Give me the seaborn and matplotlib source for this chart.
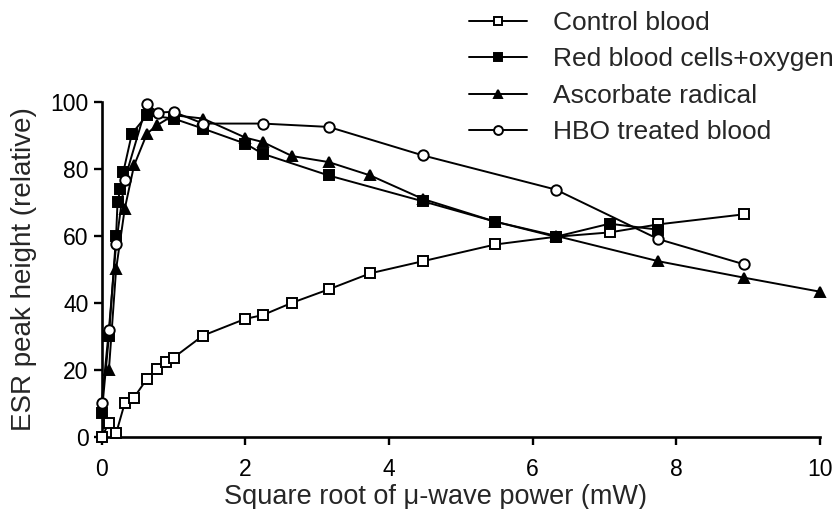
import numpy as np
import pandas as pd
import matplotlib
matplotlib.use("Agg")
import matplotlib.pyplot as plt
import seaborn as sns

# ---- data ----
control_x = [0, 0.1, 0.2, 0.32, 0.45, 0.63, 0.77, 0.89, 1.0, 1.41, 2.0, 2.24, 2.65,
             3.16, 3.74, 4.47, 5.48, 6.32, 7.07, 7.75, 8.94]
control_y = [0, 4, 1, 10, 11.7, 17.3, 20.3, 22.3, 23.6, 30.2, 35.2, 36.3, 40,
             44, 48.8, 52.4, 57.4, 59.7, 61, 63.4, 66.4]

rbc_x = [0, 0.1, 0.2, 0.22, 0.26, 0.3, 0.42, 0.63, 1.0, 1.41, 2.0, 2.24, 3.16,
         4.47, 5.48, 6.32, 7.07, 7.75]
rbc_y = [7, 30, 60, 70, 74, 79, 90.5, 96, 95, 92, 87.5, 84.5, 78,
         70.3, 64.2, 59.7, 63.6, 61.8]

asc_x = [0.1, 0.2, 0.32, 0.45, 0.63, 0.77, 1.0, 1.41, 2.0, 2.24, 2.65, 3.16,
         3.74, 4.47, 5.48, 6.32, 7.75, 8.94, 10.0]
asc_y = [20, 50, 68, 81, 90.5, 93, 96, 95, 89.3, 88, 83.8, 82,
         78, 71, 64.2, 60, 52.4, 47.5, 43.3]

hbo_x = [0, 0.1, 0.2, 0.32, 0.63, 0.78, 1.0, 1.41, 2.24, 3.16, 4.47, 6.32, 7.75, 8.94]
hbo_y = [10, 32, 57.5, 76.8, 99.3, 96.8, 97, 93.5, 93.5, 92.5, 84, 73.8, 59, 51.5]

series_names = ["Control blood", "Red blood cells+oxygen",
                "Ascorbate radical", "HBO treated blood"]
x_ticks = [0, 2, 4, 6, 8, 10]
y_ticks = [0, 20, 40, 60, 80, 100]

sns.set_style("ticks")
plt.rcParams["font.family"] = ["Liberation Sans", "DejaVu Sans"]

fig = plt.figure(figsize=(8.38, 5.09), dpi=100)
ax = fig.add_axes([0.1214, 0.142, 0.8571, 0.658])

styles = [
    (control_x, control_y, "s", "white", 7.0),
    (rbc_x, rbc_y, "s", "black", 7.0),
    (asc_x, asc_y, "^", "black", 7.5),
    (hbo_x, hbo_y, "o", "white", 7.5),
]
for name, (xs, ys, mk, fc, ms) in zip(series_names, styles):
    df = pd.DataFrame({"x": xs, "y": ys})
    sns.lineplot(data=df, x="x", y="y", ax=ax, estimator=None, sort=False,
                 color="black", lw=1.4, marker=mk, markersize=ms,
                 markerfacecolor=fc, markeredgecolor="black", markeredgewidth=1.4,
                 label=name, clip_on=False, zorder=3)

ax.set_xlim(0, 10)
ax.set_ylim(0, 100)
ax.set_xticks(x_ticks)
ax.set_yticks(y_ticks)
for s in ["top", "right"]:
    ax.spines[s].set_visible(False)
for s in ["left", "bottom"]:
    ax.spines[s].set_linewidth(1.9)
    ax.spines[s].set_color("black")
ax.tick_params(axis="both", direction="out", length=5.5, width=1.7,
               labelsize=16.5, colors="black")
ax.tick_params(axis="x", pad=10)
ax.tick_params(axis="y", pad=4)
ax.set_xlabel("Square root of \u03bc-wave power (mW)", fontsize=19.5)
ax.set_ylabel("ESR peak height (relative)", fontsize=20)
ax.xaxis.set_label_coords(0.465, -0.142)
ax.yaxis.set_label_coords(-0.09, 0.5)

leg = ax.legend(loc="upper left", bbox_to_anchor=(469 / 838, 1 - 11 / 509),
                bbox_transform=fig.transFigure, frameon=False, fontsize=19,
                handlelength=2.2, handletextpad=1.0, labelspacing=0.47,
                borderaxespad=0, borderpad=0, markerscale=0.85)

fig.savefig("out.png", dpi=100)
